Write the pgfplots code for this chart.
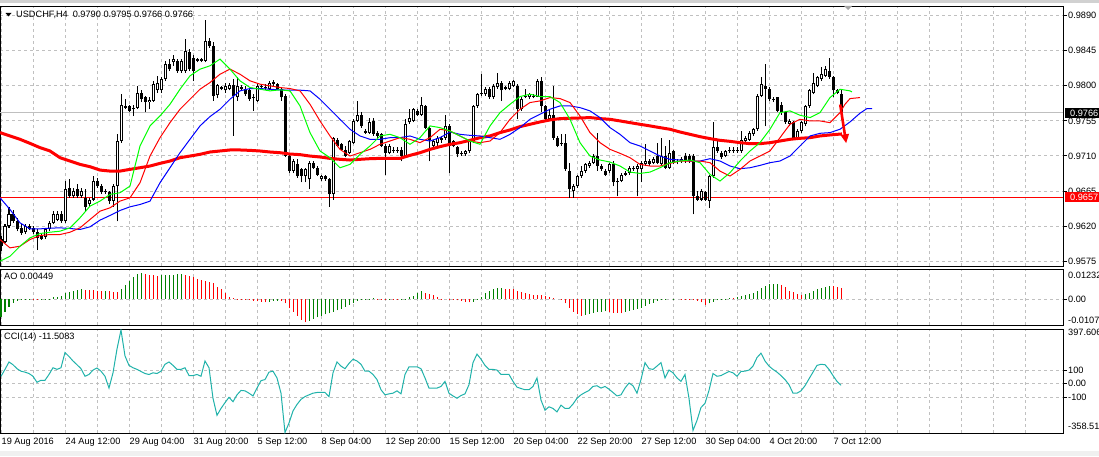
\documentclass[border=0pt]{standalone}
\usepackage{fontspec}
\setmainfont{Liberation Sans}
\usepackage{pgfplots}
\usepackage{pgfplotstable}
\pgfplotsset{compat=1.18}
\usetikzlibrary{arrows.meta}

\definecolor{mtgrid}{RGB}{192,192,192}
\definecolor{mtlime}{RGB}{0,255,0}
\definecolor{mtgreen}{RGB}{0,128,0}
\definecolor{mtblue}{RGB}{0,0,255}
\definecolor{mtred}{RGB}{255,0,0}
\definecolor{mtcci}{RGB}{32,178,170}
\definecolor{mtstrip}{RGB}{240,240,240}
\newcommand\mtfont{\fontsize{9.2}{11}\selectfont}

% H4 candles: index, open, high, low, close
\pgfplotstableread{
i o h l c
0 0.9603 0.9607 0.9588 0.9594
1 0.9600 0.9622 0.9598 0.9620
2 0.9620 0.9644 0.9618 0.9635
3 0.9635 0.9641 0.9624 0.9626
4 0.9626 0.9630 0.9613 0.9616
5 0.9618 0.9622 0.9609 0.9611
6 0.9612 0.9622 0.9610 0.9620
7 0.9620 0.9622 0.9615 0.9616
8 0.9618 0.9620 0.9610 0.9612
9 0.9612 0.9616 0.9589 0.9605
10 0.9608 0.9610 0.9602 0.9603
11 0.9606 0.9618 0.9603 0.9616
12 0.9616 0.9627 0.9613 0.9624
13 0.9624 0.9639 0.9622 0.9635
14 0.9628 0.9639 0.9626 0.9635
15 0.9635 0.9639 0.9624 0.9626
16 0.9626 0.9678 0.9624 0.9667
17 0.9669 0.9680 0.9656 0.9658
18 0.9658 0.9669 0.9656 0.9665
19 0.9667 0.9674 0.9656 0.9658
20 0.9658 0.9669 0.9656 0.9665
21 0.9656 0.9667 0.9639 0.9645
22 0.9648 0.9656 0.9645 0.9654
23 0.9654 0.9684 0.9652 0.9678
24 0.9678 0.9682 0.9669 0.9671
25 0.9671 0.9674 0.9661 0.9663
26 0.9663 0.9667 0.9661 0.9665
27 0.9663 0.9665 0.9648 0.9652
28 0.9652 0.9674 0.9645 0.9671
29 0.9671 0.9738 0.9626 0.9729
30 0.9729 0.9789 0.9727 0.9776
31 0.9774 0.9783 0.9770 0.9772
32 0.9774 0.9776 0.9766 0.9768
33 0.9770 0.9776 0.9761 0.9772
34 0.9772 0.9800 0.9770 0.9791
35 0.9791 0.9794 0.9779 0.9783
36 0.9785 0.9787 0.9766 0.9779
37 0.9779 0.9785 0.9770 0.9782
38 0.9781 0.9806 0.9779 0.9802
39 0.9794 0.9813 0.9791 0.9804
40 0.9794 0.9811 0.9791 0.9809
41 0.9809 0.9832 0.9806 0.9828
42 0.9828 0.9834 0.9819 0.9821
43 0.9830 0.9839 0.9826 0.9834
44 0.9832 0.9834 0.9817 0.9819
45 0.9819 0.9834 0.9817 0.9832
46 0.9819 0.9860 0.9817 0.9845
47 0.9843 0.9847 0.9819 0.9821
48 0.9836 0.9839 0.9806 0.9819
49 0.9834 0.9836 0.9830 0.9832
50 0.9832 0.9836 0.9830 0.9834
51 0.9832 0.9884 0.9830 0.9858
52 0.9858 0.9862 0.9849 0.9851
53 0.9851 0.9856 0.9781 0.9787
54 0.9788 0.9802 0.9784 0.9801
55 0.9798 0.9800 0.9794 0.9796
56 0.9794 0.9804 0.9791 0.9800
57 0.9796 0.9804 0.9794 0.9801
58 0.9801 0.9809 0.9736 0.9787
59 0.9785 0.9811 0.9781 0.9800
60 0.9798 0.9801 0.9794 0.9796
61 0.9796 0.9800 0.9787 0.9789
62 0.9794 0.9796 0.9781 0.9783
63 0.9785 0.9789 0.9768 0.9785
64 0.9781 0.9802 0.9779 0.9800
65 0.9798 0.9802 0.9796 0.9800
66 0.9799 0.9802 0.9795 0.9797
67 0.9796 0.9806 0.9794 0.9804
68 0.9805 0.9808 0.9800 0.9802
69 0.9802 0.9804 0.9794 0.9796
70 0.9796 0.9798 0.9781 0.9785
71 0.9787 0.9789 0.9708 0.9710
72 0.9710 0.9712 0.9688 0.9691
73 0.9691 0.9706 0.9688 0.9703
74 0.9699 0.9706 0.9682 0.9684
75 0.9693 0.9695 0.9676 0.9684
76 0.9684 0.9695 0.9676 0.9693
77 0.9680 0.9703 0.9667 0.9701
78 0.9701 0.9703 0.9693 0.9695
79 0.9695 0.9697 0.9684 0.9686
80 0.9680 0.9686 0.9678 0.9684
81 0.9684 0.9686 0.9678 0.9680
82 0.9680 0.9682 0.9645 0.9661
83 0.9661 0.9734 0.9654 0.9733
84 0.9731 0.9733 0.9721 0.9723
85 0.9725 0.9727 0.9716 0.9718
86 0.9718 0.9723 0.9708 0.9710
87 0.9714 0.9731 0.9712 0.9729
88 0.9727 0.9757 0.9725 0.9755
89 0.9755 0.9781 0.9753 0.9763
90 0.9763 0.9766 0.9746 0.9748
91 0.9742 0.9744 0.9738 0.9740
92 0.9740 0.9759 0.9738 0.9753
93 0.9755 0.9759 0.9736 0.9738
94 0.9740 0.9742 0.9733 0.9736
95 0.9738 0.9740 0.9721 0.9723
96 0.9723 0.9725 0.9686 0.9714
97 0.9714 0.9725 0.9712 0.9723
98 0.9718 0.9721 0.9714 0.9716
99 0.9716 0.9721 0.9714 0.9718
100 0.9718 0.9721 0.9703 0.9710
101 0.9710 0.9757 0.9708 0.9751
102 0.9753 0.9770 0.9751 0.9759
103 0.9755 0.9772 0.9753 0.9770
104 0.9768 0.9770 0.9761 0.9763
105 0.9763 0.9786 0.9761 0.9776
106 0.9774 0.9776 0.9744 0.9746
107 0.9746 0.9748 0.9703 0.9731
108 0.9723 0.9731 0.9721 0.9729
109 0.9727 0.9736 0.9721 0.9733
110 0.9731 0.9736 0.9727 0.9733
111 0.9733 0.9763 0.9731 0.9748
112 0.9748 0.9751 0.9688 0.9723
113 0.9729 0.9731 0.9721 0.9723
114 0.9721 0.9723 0.9708 0.9712
115 0.9714 0.9716 0.9710 0.9712
116 0.9712 0.9718 0.9710 0.9716
117 0.9716 0.9731 0.9714 0.9729
118 0.9729 0.9776 0.9727 0.9774
119 0.9774 0.9791 0.9772 0.9789
120 0.9789 0.9815 0.9787 0.9791
121 0.9789 0.9798 0.9787 0.9796
122 0.9796 0.9798 0.9783 0.9785
123 0.9785 0.9802 0.9783 0.9800
124 0.9798 0.9817 0.9796 0.9804
125 0.9804 0.9806 0.9781 0.9794
126 0.9798 0.9800 0.9794 0.9796
127 0.9796 0.9806 0.9794 0.9804
128 0.9800 0.9807 0.9798 0.9806
129 0.9800 0.9802 0.9757 0.9770
130 0.9770 0.9785 0.9768 0.9783
131 0.9786 0.9796 0.9784 0.9786
132 0.9785 0.9791 0.9783 0.9789
133 0.9787 0.9789 0.9784 0.9786
134 0.9786 0.9809 0.9785 0.9806
135 0.9806 0.9811 0.9766 0.9774
136 0.9774 0.9776 0.9755 0.9757
137 0.9757 0.9770 0.9755 0.9763
138 0.9763 0.9800 0.9731 0.9733
139 0.9733 0.9736 0.9721 0.9723
140 0.9727 0.9738 0.9723 0.9725
141 0.9727 0.9738 0.9691 0.9693
142 0.9691 0.9701 0.9656 0.9667
143 0.9665 0.9674 0.9656 0.9671
144 0.9671 0.9686 0.9669 0.9684
145 0.9684 0.9697 0.9682 0.9691
146 0.9691 0.9701 0.9688 0.9699
147 0.9697 0.9703 0.9695 0.9701
148 0.9701 0.9712 0.9699 0.9710
149 0.9710 0.9740 0.9691 0.9697
150 0.9697 0.9699 0.9691 0.9693
151 0.9691 0.9693 0.9684 0.9686
152 0.9691 0.9701 0.9688 0.9699
153 0.9699 0.9703 0.9671 0.9676
154 0.9676 0.9682 0.9658 0.9678
155 0.9678 0.9688 0.9676 0.9686
156 0.9686 0.9691 0.9684 0.9688
157 0.9688 0.9697 0.9686 0.9695
158 0.9694 0.9697 0.9691 0.9693
159 0.9693 0.9699 0.9658 0.9697
160 0.9693 0.9703 0.9676 0.9701
161 0.9699 0.9725 0.9697 0.9703
162 0.9703 0.9706 0.9697 0.9699
163 0.9701 0.9708 0.9699 0.9706
164 0.9710 0.9727 0.9699 0.9701
165 0.9699 0.9733 0.9697 0.9710
166 0.9710 0.9723 0.9693 0.9695
167 0.9695 0.9731 0.9693 0.9714
168 0.9716 0.9718 0.9699 0.9701
169 0.9703 0.9706 0.9699 0.9702
170 0.9703 0.9708 0.9701 0.9706
171 0.9710 0.9714 0.9701 0.9703
172 0.9710 0.9712 0.9701 0.9703
173 0.9710 0.9712 0.9635 0.9658
174 0.9658 0.9665 0.9652 0.9654
175 0.9654 0.9667 0.9652 0.9665
176 0.9663 0.9665 0.9652 0.9654
177 0.9652 0.9686 0.9643 0.9684
178 0.9684 0.9753 0.9682 0.9721
179 0.9721 0.9729 0.9714 0.9716
180 0.9714 0.9716 0.9706 0.9708
181 0.9710 0.9718 0.9708 0.9716
182 0.9716 0.9721 0.9714 0.9718
183 0.9718 0.9721 0.9714 0.9716
184 0.9716 0.9721 0.9714 0.9718
185 0.9716 0.9742 0.9714 0.9731
186 0.9729 0.9736 0.9727 0.9733
187 0.9731 0.9742 0.9729 0.9740
188 0.9738 0.9746 0.9736 0.9744
189 0.9744 0.9789 0.9742 0.9787
190 0.9787 0.9811 0.9785 0.9802
191 0.9800 0.9828 0.9748 0.9796
192 0.9796 0.9798 0.9781 0.9783
193 0.9783 0.9786 0.9779 0.9782
194 0.9785 0.9786 0.9766 0.9768
195 0.9776 0.9779 0.9763 0.9766
196 0.9766 0.9768 0.9751 0.9753
197 0.9751 0.9757 0.9748 0.9755
198 0.9753 0.9755 0.9731 0.9733
199 0.9733 0.9744 0.9731 0.9742
200 0.9742 0.9755 0.9740 0.9753
201 0.9751 0.9776 0.9748 0.9774
202 0.9774 0.9796 0.9772 0.9794
203 0.9791 0.9817 0.9789 0.9804
204 0.9800 0.9813 0.9798 0.9811
205 0.9809 0.9824 0.9806 0.9815
206 0.9813 0.9826 0.9811 0.9821
207 0.9819 0.9836 0.9809 0.9811
208 0.9811 0.9813 0.9785 0.9794
209 0.9791 0.9796 0.9789 0.9794
210 0.9790 0.9795 0.9766 0.9766
}\candles

% Alligator lips (green)
\pgfplotstableread{
i p
-0.25 0.95747
2.25 0.95811
4.75 0.95940
7.25 0.96047
9.75 0.96103
12.25 0.96120
14.75 0.96133
17.25 0.96176
19.75 0.96305
22.25 0.96455
24.75 0.96519
27.25 0.96605
29.75 0.96627
32.25 0.96712
33.5 0.96970
34.75 0.97227
37.25 0.97485
39.75 0.97613
42.25 0.97763
44.75 0.97956
47.25 0.98128
49.75 0.98214
52.25 0.98257
54.75 0.98343
57.25 0.98214
59.75 0.98064
62.25 0.97978
64.75 0.97956
67.25 0.97935
69.75 0.97948
72.25 0.97935
74.75 0.97742
77.25 0.97399
79.75 0.97163
82.25 0.97077
84.75 0.96948
87.25 0.96991
89.75 0.97120
92.25 0.97227
94.75 0.97356
97.25 0.97377
99.75 0.97334
102.25 0.97249
104.75 0.97334
107.25 0.97485
109.75 0.97463
112.25 0.97420
114.75 0.97356
117.25 0.97291
119.75 0.97249
122.25 0.97485
124.75 0.97656
127.25 0.97763
129.75 0.97862
132.25 0.97892
134.75 0.97862
137.25 0.97862
139.75 0.97785
142.25 0.97570
144.75 0.97270
147.25 0.97098
149.75 0.97047
152.25 0.97021
154.75 0.96970
157.25 0.96892
159.75 0.96875
162.25 0.96892
164.75 0.96948
167.25 0.97013
169.75 0.97034
172.25 0.97047
174.75 0.97013
177.25 0.96862
179.75 0.96777
182.25 0.96884
184.75 0.97034
187.25 0.97163
189.75 0.97270
192.25 0.97442
194.75 0.97656
197.25 0.97678
199.75 0.97622
202.25 0.97592
204.75 0.97656
207.25 0.97849
209.75 0.97956
212.25 0.97935
212.75 0.97922
}\lips

% Alligator teeth (red)
\pgfplotstableread{
i p
-0.25 0.96026
2.25 0.95919
4.75 0.95940
7.25 0.96026
9.75 0.96077
12.25 0.96090
14.75 0.96090
17.25 0.96120
19.75 0.96176
22.25 0.96283
24.75 0.96390
27.25 0.96433
29.75 0.96519
32.25 0.96562
34.75 0.96755
37.25 0.97098
39.75 0.97334
42.25 0.97527
44.75 0.97699
47.25 0.97828
49.75 0.97956
52.25 0.98042
54.75 0.98149
57.25 0.98214
59.75 0.98149
62.25 0.98064
64.75 0.98021
67.25 0.97999
69.75 0.97978
72.25 0.97965
74.75 0.97935
77.25 0.97763
79.75 0.97549
82.25 0.97356
84.75 0.97184
87.25 0.97098
89.75 0.97141
92.25 0.97184
94.75 0.97249
97.25 0.97291
99.75 0.97334
102.25 0.97313
104.75 0.97270
107.25 0.97334
109.75 0.97442
112.25 0.97420
114.75 0.97356
117.25 0.97291
119.75 0.97270
122.25 0.97291
124.75 0.97399
127.25 0.97570
129.75 0.97699
132.25 0.97785
134.75 0.97806
137.25 0.97849
139.75 0.97836
142.25 0.97785
144.75 0.97613
147.25 0.97399
149.75 0.97270
152.25 0.97184
154.75 0.97133
157.25 0.97077
159.75 0.96991
162.25 0.96970
164.75 0.96970
167.25 0.97004
169.75 0.97034
172.25 0.97034
174.75 0.97034
177.25 0.97013
179.75 0.96905
182.25 0.96841
184.75 0.96927
187.25 0.97034
189.75 0.97098
192.25 0.97163
194.75 0.97334
197.25 0.97506
199.75 0.97570
202.25 0.97549
204.75 0.97549
207.25 0.97527
209.75 0.97656
211 0.97763
212.25 0.97836
214.75 0.97849
}\teeth

% Alligator jaw (blue)
\pgfplotstableread{
i p
-0.25 0.96562
2.25 0.96412
4.75 0.96240
7.25 0.96163
9.75 0.96163
12.25 0.96172
14.75 0.96176
17.25 0.96168
19.75 0.96155
22.25 0.96189
24.75 0.96275
27.25 0.96335
29.75 0.96399
32.25 0.96446
34.75 0.96476
37.25 0.96519
39.75 0.96755
42.25 0.96948
44.75 0.97141
47.25 0.97313
49.75 0.97485
52.25 0.97605
54.75 0.97699
57.25 0.97828
59.75 0.97935
62.25 0.97965
64.75 0.97965
67.25 0.97956
69.75 0.97948
72.25 0.97944
74.75 0.97944
77.25 0.97935
79.75 0.97828
82.25 0.97699
84.75 0.97570
87.25 0.97442
89.75 0.97356
92.25 0.97313
94.75 0.97313
97.25 0.97334
99.75 0.97334
102.25 0.97356
104.75 0.97313
107.25 0.97291
109.75 0.97334
112.25 0.97407
114.75 0.97377
117.25 0.97364
119.75 0.97356
122.25 0.97334
124.75 0.97313
127.25 0.97377
129.75 0.97463
132.25 0.97570
134.75 0.97635
137.25 0.97699
139.75 0.97742
142.25 0.97742
144.75 0.97720
147.25 0.97678
149.75 0.97592
152.25 0.97463
154.75 0.97377
157.25 0.97270
159.75 0.97227
162.25 0.97163
164.75 0.97098
167.25 0.97056
169.75 0.97047
172.25 0.97034
174.75 0.97034
177.25 0.97064
179.75 0.97034
182.25 0.96970
184.75 0.96935
187.25 0.96948
189.75 0.96978
192.25 0.97013
194.75 0.97034
197.25 0.97098
199.75 0.97227
202.25 0.97356
204.75 0.97390
207.25 0.97399
209.75 0.97442
212.25 0.97536
214.75 0.97648
216.5 0.97708
217.75 0.97708
}\jaw

% slow moving average (thick red)
\pgfplotstableread{
i p
-0.25 0.97399
2.25 0.97356
4.75 0.97313
7.25 0.97261
9.75 0.97206
12.25 0.97163
14.75 0.97077
17.25 0.97034
19.75 0.96991
22.25 0.96961
24.75 0.96918
27.25 0.96905
29.75 0.96905
32.25 0.96927
34.75 0.96948
37.25 0.96970
39.75 0.97004
42.25 0.97034
44.75 0.97077
47.25 0.97098
49.75 0.97120
52.25 0.97150
54.75 0.97163
57.25 0.97176
59.75 0.97176
62.25 0.97171
64.75 0.97163
67.25 0.97150
69.75 0.97141
72.25 0.97124
74.75 0.97116
77.25 0.97098
79.75 0.97086
82.25 0.97068
84.75 0.97056
87.25 0.97047
89.75 0.97056
92.25 0.97064
94.75 0.97068
97.25 0.97068
99.75 0.97068
102.25 0.97107
104.75 0.97141
107.25 0.97184
109.75 0.97219
112.25 0.97249
114.75 0.97270
117.25 0.97300
119.75 0.97334
122.25 0.97356
124.75 0.97399
127.25 0.97433
129.75 0.97476
132.25 0.97506
134.75 0.97536
137.25 0.97562
139.75 0.97579
142.25 0.97583
144.75 0.97587
147.25 0.97592
149.75 0.97579
152.25 0.97570
154.75 0.97549
157.25 0.97527
159.75 0.97506
162.25 0.97485
164.75 0.97463
167.25 0.97442
169.75 0.97407
172.25 0.97377
174.75 0.97347
177.25 0.97322
179.75 0.97300
182.25 0.97287
184.75 0.97270
187.25 0.97257
189.75 0.97257
192.25 0.97270
194.75 0.97291
197.25 0.97313
199.75 0.97326
202.25 0.97334
204.75 0.97356
207.25 0.97369
210.25 0.97382
}\slowma

% Awesome Oscillator: value, 1 = rising (green), 0 = falling (red)
\pgfplotstableread{
i v g
0 -0.00725 1
1 -0.00519 1
2 -0.00314 1
3 -0.00150 1
4 -0.00068 1
5 -0.00041 1
6 -0.00027 1
7 -0.00010 1
8 -0.00012 0
9 -0.00014 0
10 -0.00008 1
11 -0.00004 1
12 0.00010 1
13 0.00068 1
14 0.00096 1
15 0.00137 1
16 0.00232 1
17 0.00273 1
18 0.00328 1
19 0.00369 1
20 0.00396 1
21 0.00383 0
22 0.00369 0
23 0.00355 0
24 0.00342 0
25 0.00328 0
26 0.00342 1
27 0.00328 0
28 0.00301 0
29 0.00273 0
30 0.00396 1
31 0.00574 1
32 0.00752 1
33 0.00916 1
34 0.01025 1
35 0.01053 1
36 0.01012 0
37 0.00998 0
38 0.00984 0
39 0.00957 0
40 0.00971 1
41 0.00984 1
42 0.00998 1
43 0.01005 1
44 0.01012 1
45 0.01015 1
46 0.00984 0
47 0.00943 0
48 0.00889 0
49 0.00834 0
50 0.00779 0
51 0.00738 0
52 0.00697 0
53 0.00642 0
54 0.00506 0
55 0.00410 0
56 0.00232 0
57 0.00096 0
58 0.00027 0
59 0.00014 0
60 -0.00014 0
61 -0.00027 0
62 -0.00041 0
63 -0.00068 0
64 -0.00096 0
65 -0.00123 0
66 -0.00137 0
67 -0.00109 1
68 -0.00082 1
69 -0.00068 1
70 -0.00070 0
71 -0.00178 0
72 -0.00383 0
73 -0.00519 0
74 -0.00684 0
75 -0.00861 0
76 -0.00957 0
77 -0.00889 1
78 -0.00820 1
79 -0.00752 1
80 -0.00684 1
81 -0.00629 1
82 -0.00588 1
83 -0.00533 1
84 -0.00465 1
85 -0.00396 1
86 -0.00328 1
87 -0.00246 1
88 -0.00164 1
89 -0.00082 1
90 -0.00041 1
91 -0.00014 1
92 0.00014 1
93 0.00055 1
94 0.00014 0
95 -0.00014 0
96 -0.00027 0
97 -0.00014 1
98 -0.00027 0
99 -0.00041 0
100 -0.00027 1
101 0.00014 1
102 0.00068 1
103 0.00137 1
104 0.00232 1
105 0.00328 1
106 0.00260 0
107 0.00205 0
108 0.00150 0
109 0.00068 0
110 0.00014 0
111 0.00000 0
112 -0.00014 0
113 -0.00027 0
114 -0.00055 0
115 -0.00082 0
116 -0.00109 0
117 -0.00137 0
118 -0.00109 1
119 0.00014 1
120 0.00096 1
121 0.00232 1
122 0.00328 1
123 0.00396 1
124 0.00437 1
125 0.00451 1
126 0.00424 0
127 0.00410 0
128 0.00396 0
129 0.00342 0
130 0.00287 0
131 0.00246 0
132 0.00205 0
133 0.00178 0
134 0.00164 0
135 0.00150 0
136 0.00123 0
137 0.00096 0
138 0.00041 0
139 0.00000 0
140 -0.00041 0
141 -0.00178 0
142 -0.00355 0
143 -0.00519 0
144 -0.00615 0
145 -0.00697 0
146 -0.00656 1
147 -0.00601 1
148 -0.00560 1
149 -0.00533 1
150 -0.00519 1
151 -0.00506 1
152 -0.00533 0
153 -0.00560 0
154 -0.00574 0
155 -0.00588 0
156 -0.00533 1
157 -0.00492 1
158 -0.00451 1
159 -0.00410 1
160 -0.00355 1
161 -0.00287 1
162 -0.00205 1
163 -0.00150 1
164 -0.00082 1
165 -0.00041 1
166 -0.00014 1
167 0.00000 1
168 0.00014 1
169 0.00000 0
170 -0.00005 0
171 -0.00014 0
172 -0.00020 0
173 -0.00027 0
174 -0.00068 0
175 -0.00137 0
176 -0.00246 0
177 -0.00178 1
178 -0.00109 1
179 -0.00055 1
180 -0.00014 1
181 0.00014 1
182 0.00055 1
183 0.00041 0
184 0.00082 1
185 0.00123 1
186 0.00150 1
187 0.00191 1
188 0.00246 1
189 0.00328 1
190 0.00437 1
191 0.00533 1
192 0.00601 1
193 0.00615 1
194 0.00629 1
195 0.00588 0
196 0.00506 0
197 0.00342 0
198 0.00273 0
199 0.00219 0
200 0.00178 0
201 0.00205 1
202 0.00246 1
203 0.00328 1
204 0.00396 1
205 0.00465 1
206 0.00506 1
207 0.00533 1
208 0.00519 0
209 0.00492 0
210 0.00449 0
}\ao

% CCI(14)
\pgfplotstableread{
i v
0 54
1 104
2 158
3 138
4 109
5 91
6 84
7 74
8 54
9 10
10 25
11 25
12 67
13 116
14 104
15 116
16 227
17 198
18 165
19 138
20 109
21 54
22 67
23 99
24 114
25 91
26 54
27 -32
28 79
29 252
30 390
31 202
32 133
33 116
34 104
35 89
36 74
37 67
38 79
39 74
40 91
41 141
42 158
43 133
44 104
45 104
46 116
47 59
48 59
49 67
50 54
51 165
52 116
53 -106
54 -230
55 -180
56 -138
57 -99
58 -131
59 -81
60 -49
61 -52
62 -69
63 -89
64 -32
65 22
66 30
67 84
68 91
69 42
70 -69
71 -355
72 -286
73 -198
74 -151
75 -114
76 -94
77 -81
78 -69
79 -64
80 -64
81 -64
82 -94
83 79
84 158
85 128
86 109
87 148
88 178
89 165
90 141
91 91
92 91
93 67
94 30
95 -44
96 -81
97 -74
98 -69
99 -52
100 -74
101 67
102 123
103 123
104 123
105 109
106 42
107 -32
108 -32
109 -32
110 -20
111 17
112 -69
113 -89
114 -106
115 -86
116 -74
117 -7
118 153
119 215
120 178
121 133
122 104
123 104
124 99
125 67
126 67
127 67
128 17
129 -25
130 -35
131 -44
132 -44
133 -20
134 42
135 -119
136 -193
137 -168
138 -180
139 -205
140 -156
141 -180
142 -180
143 -148
144 -106
145 -81
146 -64
147 -49
148 -20
149 -15
150 -32
151 -20
152 -40
153 -64
154 -89
155 -81
156 -32
157 5
158 -15
159 -69
160 30
161 153
162 109
163 104
164 128
165 153
166 42
167 99
168 79
169 42
170 17
171 67
172 -106
173 -340
174 -267
175 -173
176 -143
177 -49
178 74
179 54
180 59
181 74
182 89
183 79
184 54
185 89
186 91
187 99
188 128
189 190
190 222
191 165
192 128
193 104
194 84
195 59
196 30
197 -7
198 -69
199 -69
200 -52
201 -15
202 35
203 84
204 133
205 141
206 138
207 104
208 59
209 17
210 -11.5083
}\cci

\pgfplotsset{
  mtpane/.style={
    scale only axis, width=1063pt,
    xmin=-0.25, xmax=265.5,
    axis line style={black, line width=1pt},
    scaled y ticks=false,
    xtick={0,16,...,256}, minor xtick={8,24,...,248},
    xmajorgrids, xminorgrids, ymajorgrids,
    major grid style={mtgrid, line width=0.8pt, dash pattern=on 3pt off 3pt},
    minor grid style={mtgrid, line width=0.8pt, dash pattern=on 3pt off 3pt},
    xtick pos=left, ytick pos=right,
    tick align=outside,
    major tick length=3.5pt, minor tick length=0pt,
    ytick style={black, line width=0.8pt},
    xtick style={draw=none},
    xticklabels={},
    ticklabel style={font=\mtfont, text=black},
    yticklabel style={inner sep=0pt, xshift=1.5pt},
  },
  % vertical segments drawn as error bars going up from the plotted y
  seg/.style 2 args={draw=none, no markers,
    error bars/y dir=plus, error bars/y explicit,
    error bars/error mark=none,
    error bars/error bar style={draw=#1, solid, line width=#2}},
}

\begin{document}
\begin{tikzpicture}[x=1pt,y=1pt]
\fill[mtstrip] (0,0) rectangle (1099,5);
\fill[black!18] (0,453) rectangle (1099,456);

% price pane
\begin{axis}[mtpane, at={(0pt,190pt)}, anchor=south west, height=260pt,
  ymin=0.95686, ymax=0.99025,
  ytick={0.9575,0.9620,0.9665,0.9710,0.9755,0.9800,0.9845,0.9890},
  yticklabels={0.9575,0.9620,0.9665,0.9710,0.9755,0.9800,0.9845,0.9890}]
\addplot[black!25, line width=1pt] coordinates {(-0.25,0.9766) (265.5,0.9766)};
\addplot[mtred, line width=1pt] coordinates {(-0.25,0.9657) (265.5,0.9657)};
% wicks
\addplot[seg={black}{1pt}] table[x=i, y=l, y error expr=\thisrow{h}-\thisrow{l}] {\candles};
% bearish bodies
\addplot[restrict expr to domain={\thisrow{o}-\thisrow{c}}{0.00001:1}, seg={black}{3pt}]
  table[x=i, y=c, y error expr=\thisrow{o}-\thisrow{c}] {\candles};
% bullish bodies: black outline, white inside
\addplot[restrict expr to domain={\thisrow{c}-\thisrow{o}}{-0.00001:1}, seg={black}{3pt}]
  table[x=i, y=o, y error expr={max(\thisrow{c}-\thisrow{o},0.00009)}] {\candles};
\addplot[restrict expr to domain={\thisrow{c}-\thisrow{o}}{0.0003:1}, seg={white}{1pt}]
  table[x=i, y expr=\thisrow{o}+0.00013, y error expr=\thisrow{c}-\thisrow{o}-0.00026] {\candles};
\addplot[mtred, line width=3pt] table[x=i, y=p] {\slowma};
\addplot[mtblue, line width=1pt] table[x=i, y=p] {\jaw};
\addplot[mtred, line width=1pt] table[x=i, y=p] {\teeth};
\addplot[mtlime, line width=1pt] table[x=i, y=p] {\lips};
\draw[mtred, line width=2.6pt, -{Triangle[length=9pt, width=8pt]}]
  (axis cs:209.8,0.97760) -- (axis cs:211.3,0.97262);
\end{axis}

% Awesome Oscillator pane
\begin{axis}[mtpane, at={(0pt,131pt)}, anchor=south west, height=56pt,
  ymin=-0.01070, ymax=0.01232,
  ytick={0}, yticklabels={0.00}]
\addplot[restrict expr to domain={\thisrow{g}}{0.5:1.5}, seg={mtgreen}{1pt}]
  table[x=i, y expr={min(0,\thisrow{v})}, y error expr={abs(\thisrow{v})}] {\ao};
\addplot[restrict expr to domain={\thisrow{g}}{-0.5:0.5}, seg={mtred}{1pt}]
  table[x=i, y expr={min(0,\thisrow{v})}, y error expr={abs(\thisrow{v})}] {\ao};
\end{axis}

% CCI pane
\begin{axis}[mtpane, at={(0pt,23pt)}, anchor=south west, height=104pt,
  ymin=-358.519, ymax=397.606,
  ytick={-100,0,100}, yticklabels={-100,0.00,100},
  xtick style={black, line width=0.8pt},
  xticklabels={19 Aug 2016,24 Aug 12:00,29 Aug 04:00,31 Aug 20:00,5 Sep 12:00,8 Sep 04:00,12 Sep 20:00,15 Sep 12:00,20 Sep 04:00,22 Sep 20:00,27 Sep 12:00,30 Sep 04:00,4 Oct 20:00,7 Oct 12:00},
  xticklabel style={anchor=north west, inner sep=0pt, xshift=0.5pt, yshift=-1pt}]
\addplot[mtcci, line width=1pt] table[x=i, y=v] {\cci};
\end{axis}

% texts and price tags
\fill[black] (5.5,443) -- (11.5,443) -- (8.5,439.5) -- cycle;
\node[anchor=west, inner sep=0pt, font=\mtfont] at (16,441) {USDCHF,H4\hspace{5pt}0.9790 0.9795 0.9766 0.9766};
\node[anchor=west, inner sep=0pt, font=\mtfont] at (4,180) {AO 0.00449};
\node[anchor=west, inner sep=0pt, font=\mtfont] at (4,118.5) {CCI(14) -11.5083};
\node[anchor=west, inner sep=0pt, font=\mtfont] at (1068,180.5) {0.01232};
\node[anchor=west, inner sep=0pt, font=\mtfont] at (1068,136) {-0.01070};
\node[anchor=west, inner sep=0pt, font=\mtfont] at (1068,124) {397.606};
\node[anchor=west, inner sep=0pt, font=\mtfont] at (1068,30) {-358.519};
\node[anchor=west, fill=black, text=white, inner sep=0pt, minimum height=10.5pt, minimum width=36pt, font=\mtfont] at (1065,343) {\hspace{2pt}0.9766};
\node[anchor=west, fill=mtred, text=white, inner sep=0pt, minimum height=10.5pt, minimum width=36pt, font=\mtfont] at (1065,259) {\hspace{2pt}0.9657};
\fill[black!35] (844,450) -- (852,450) -- (848,446) -- cycle;

\pgfresetboundingbox
\useasboundingbox (0,0) rectangle (1099,456);
\end{tikzpicture}
\end{document}
